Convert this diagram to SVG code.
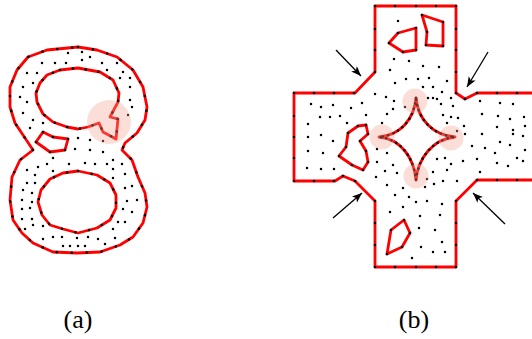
<svg xmlns="http://www.w3.org/2000/svg" width="532" height="339" viewBox="0 0 532 339">
<defs>
<style>
.bd{fill:none;stroke:#ff0000;stroke-width:2.8;stroke-linejoin:round;stroke-linecap:round}
.bdots{fill:none;stroke:#000;stroke-width:2.6;stroke-linecap:round}
.dots{fill:none;stroke:#000;stroke-width:2.5;stroke-linecap:round}
.halo{fill:#f4a090;opacity:0.35}
.arr{stroke:#000;stroke-width:1.3;fill:none;marker-end:url(#ah)}
.lbl{font-family:"Liberation Serif","DejaVu Serif",serif;font-size:26px;fill:#000}
</style>
<marker id="ah" markerUnits="userSpaceOnUse" markerWidth="12" markerHeight="10" refX="10" refY="4" orient="auto">
<path d="M0,0 L10,4 L0,8 L2.5,4 z" fill="#000"/>
</marker>
</defs>
<rect width="532" height="339" fill="#fff"/>

<g id="panel-a">
<g id="a-outer">
<polygon class="bd" points="78,47 97,50 117,57 133,70 143,87 147,107 145,120 137,133 125,143 122,150 132,160 138,177 145,193 147,207 143,223 133,237 120,245 100,252 77,253 53,252 33,243 22,233 13,220 10,200 12,177 20,160 33,150 25,138 15,123 10,107 10,87 17,70 28,57 47,50"/>
<polygon class="bdots" stroke-dasharray="0 15" points="78,47 97,50 117,57 133,70 143,87 147,107 145,120 137,133 125,143 122,150 132,160 138,177 145,193 147,207 143,223 133,237 120,245 100,252 77,253 53,252 33,243 22,233 13,220 10,200 12,177 20,160 33,150 25,138 15,123 10,107 10,87 17,70 28,57 47,50"/>
</g>
<g id="a-hole-top">
<polygon class="bd" points="60,70 78,68 100,72 113,80 119,93 118,102 110,117 118,119 116,139 103,132 99,123 88,127 78,129 67,127 53,122 43,114 37,102 36,93 40,83 47,75"/>
<polygon class="bdots" stroke-dasharray="0 13" points="60,70 78,68 100,72 113,80 119,93 118,102 110,117 118,119 116,139 103,132 99,123 88,127 78,129 67,127 53,122 43,114 37,102 36,93 40,83 47,75"/>
</g>
<g id="a-hole-small">
<polygon class="bd" points="43,132 53,137 68,139 65,150 50,152 36,142"/>
<path class="bdots" d="M43 132h0M53 137h0M68 139h0M65 150h0M50 152h0M36 142h0"/>
</g>
<g id="a-hole-bottom">
<polygon class="bd" points="78,171 97,175 110,183 116,195 116,208 110,220 97,228 78,233 63,229 50,225 42,215 38,202 41,190 50,179 63,173"/>
<polygon class="bdots" stroke-dasharray="0 14" points="78,171 97,175 110,183 116,195 116,208 110,220 97,228 78,233 63,229 50,225 42,215 38,202 41,190 50,179 63,173"/>
</g>
<path id="a-interior" class="dots" d="M68 53h0M82 52h0M90 57h0M42 63h0M55 63h0M66 63h0M82 60h0M102 63h0M117 63h0M107 70h0M123 72h0M27 73h0M37 73h0M120 78h0M130 78h0M33 83h0M23 87h0M130 87h0M20 97h0M27 102h0M130 100h0M132 107h0M23 113h0M128 115h0M33 120h0M30 128h0M43 123h0M103 141h0M78 138h0M90 140h0M75 149h0M90 150h0M103 152h0M53 158h0M69 164h0M85 163h0M95 164h0M107 164h0M113 160h0M122 164h0M38 167h0M47 164h0M27 170h0M53 171h0M113 169h0M35 175h0M125 174h0M27 183h0M35 183h0M113 178h0M132 186h0M23 190h0M125 188h0M32 193h0M22 200h0M32 202h0M127 201h0M137 200h0M22 209h0M30 208h0M123 209h0M132 212h0M22 219h0M32 219h0M118 222h0M125 222h0M25 229h0M33 225h0M43 226h0M113 229h0M43 239h0M53 237h0M62 237h0M77 238h0M88 237h0M98 239h0M115 238h0M63 246h0M70 246h0M78 246h0M85 246h0M105 244h0"/>
<circle class="halo" cx="109" cy="122" r="22"/>
</g>

<g id="panel-b">
<g id="b-outer">
<path class="bd" d="M534 93 L477 93 L465 99 L456 93 L456 6 L375 6 L375 72 L355 93 L294 93 L294 181 L335 181 L343 176 L355 181 L375 201 L375 267 L456 267 L456 201 L477 180 L534 180"/>
<path class="bdots" d="M375 6h0M395 6h0M416 6h0M436 6h0M456 6h0M375 29h0M375 50h0M375 72h0M456 29h0M456 50h0M456 72h0M456 93h0M465 99h0M477 93h0M497 93h0M517 93h0M294 93h0M314 93h0M334 93h0M354 93h0M294 116h0M294 137h0M294 158h0M294 181h0M314 181h0M334 181h0M343 176h0M355 181h0M375 201h0M375 223h0M375 245h0M375 267h0M395 267h0M416 267h0M436 267h0M456 267h0M456 245h0M456 223h0M456 201h0M477 180h0M497 180h0M517 180h0"/>
</g>
<g id="b-star">
<path class="bd" d="M416 98 C414 120 400 135 379 137 C401 139 414 158 416 180 C418 158 433 139 455 137 C433 135 418 120 416 98 Z"/>
<path class="bdots" stroke-dasharray="0 5.5" d="M416 98 C414 120 400 135 379 137 C401 139 414 158 416 180 C418 158 433 139 455 137 C433 135 418 120 416 98 Z"/>
</g>
<g id="b-hole-1">
<polygon class="bd" points="398,33 416,28 416,50 403,52 389,43"/>
<path class="bdots" d="M398 33h0M416 28h0M416 50h0M403 52h0M389 43h0"/>
</g>
<g id="b-hole-2">
<polygon class="bd" points="422,15 443,22 443,46 426,45 427,32"/>
<path class="bdots" d="M422 15h0M443 22h0M443 46h0M426 45h0M427 32h0"/>
</g>
<g id="b-hole-3">
<polygon class="bd" points="348,133 358,126 366,125 368,134 360,141 366,151 368,162 363,170 352,165 339,156 346,147"/>
<path class="bdots" d="M348 133h0M358 126h0M366 125h0M368 134h0M360 141h0M366 151h0M368 162h0M363 170h0M352 165h0M339 156h0M346 147h0"/>
</g>
<g id="b-hole-4">
<polygon class="bd" points="391,230 404,220 410,233 402,247 387,254"/>
<path class="bdots" d="M391 230h0M404 220h0M410 233h0M402 247h0M387 254h0"/>
</g>
<path id="b-interior" class="dots" d="M398 21h0M394 59h0M409 61h0M423 66h0M439 67h0M390 70h0M406 79h0M418 79h0M429 78h0M395 83h0M447 81h0M423 87h0M433 87h0M442 92h0M375 94h0M386 97h0M394 101h0M428 98h0M433 98h0M437 99h0M451 98h0M393 109h0M405 107h0M387 114h0M382 123h0M441 104h0M453 106h0M443 115h0M451 117h0M458 118h0M447 123h0M457 131h0M311 104h0M321 107h0M333 105h0M351 108h0M362 103h0M320 117h0M330 117h0M340 116h0M366 115h0M308 124h0M347 123h0M308 137h0M321 135h0M333 141h0M308 151h0M323 153h0M307 168h0M321 169h0M334 169h0M377 149h0M377 162h0M387 153h0M393 165h0M385 171h0M397 173h0M376 177h0M387 185h0M403 188h0M395 195h0M409 197h0M416 202h0M427 201h0M442 204h0M390 212h0M403 207h0M420 216h0M440 215h0M419 228h0M435 230h0M442 242h0M421 247h0M433 252h0M445 252h0M412 258h0M425 187h0M434 184h0M443 181h0M457 181h0M437 159h0M445 158h0M451 164h0M447 170h0M433 172h0M427 179h0M480 101h0M500 103h0M513 104h0M482 114h0M498 116h0M510 119h0M524 117h0M464 126h0M497 127h0M513 130h0M525 126h0M482 134h0M465 134h0M513 134h0M523 136h0M500 142h0M510 145h0M472 146h0M485 148h0M525 150h0M495 153h0M463 161h0M477 159h0M517 158h0M523 161h0M497 163h0M508 166h0M480 172h0"/>
<g id="b-halos">
<circle class="halo" cx="415" cy="101" r="12.5"/>
<circle class="halo" cx="382" cy="137" r="12.5"/>
<circle class="halo" cx="451" cy="138" r="12.5"/>
<circle class="halo" cx="416" cy="176" r="12.5"/>
</g>
</g>

<g id="connectors">
<line class="arr" x1="336" y1="50" x2="361" y2="76"/>
<line class="arr" x1="488" y1="52" x2="467" y2="87"/>
<line class="arr" x1="333" y1="218" x2="362" y2="193"/>
<line class="arr" x1="505" y1="224" x2="473" y2="193"/>
</g>

<g id="labels">
<text class="lbl" x="78" y="328" text-anchor="middle">(a)</text>
<text class="lbl" x="414" y="328" text-anchor="middle">(b)</text>
</g>
</svg>
